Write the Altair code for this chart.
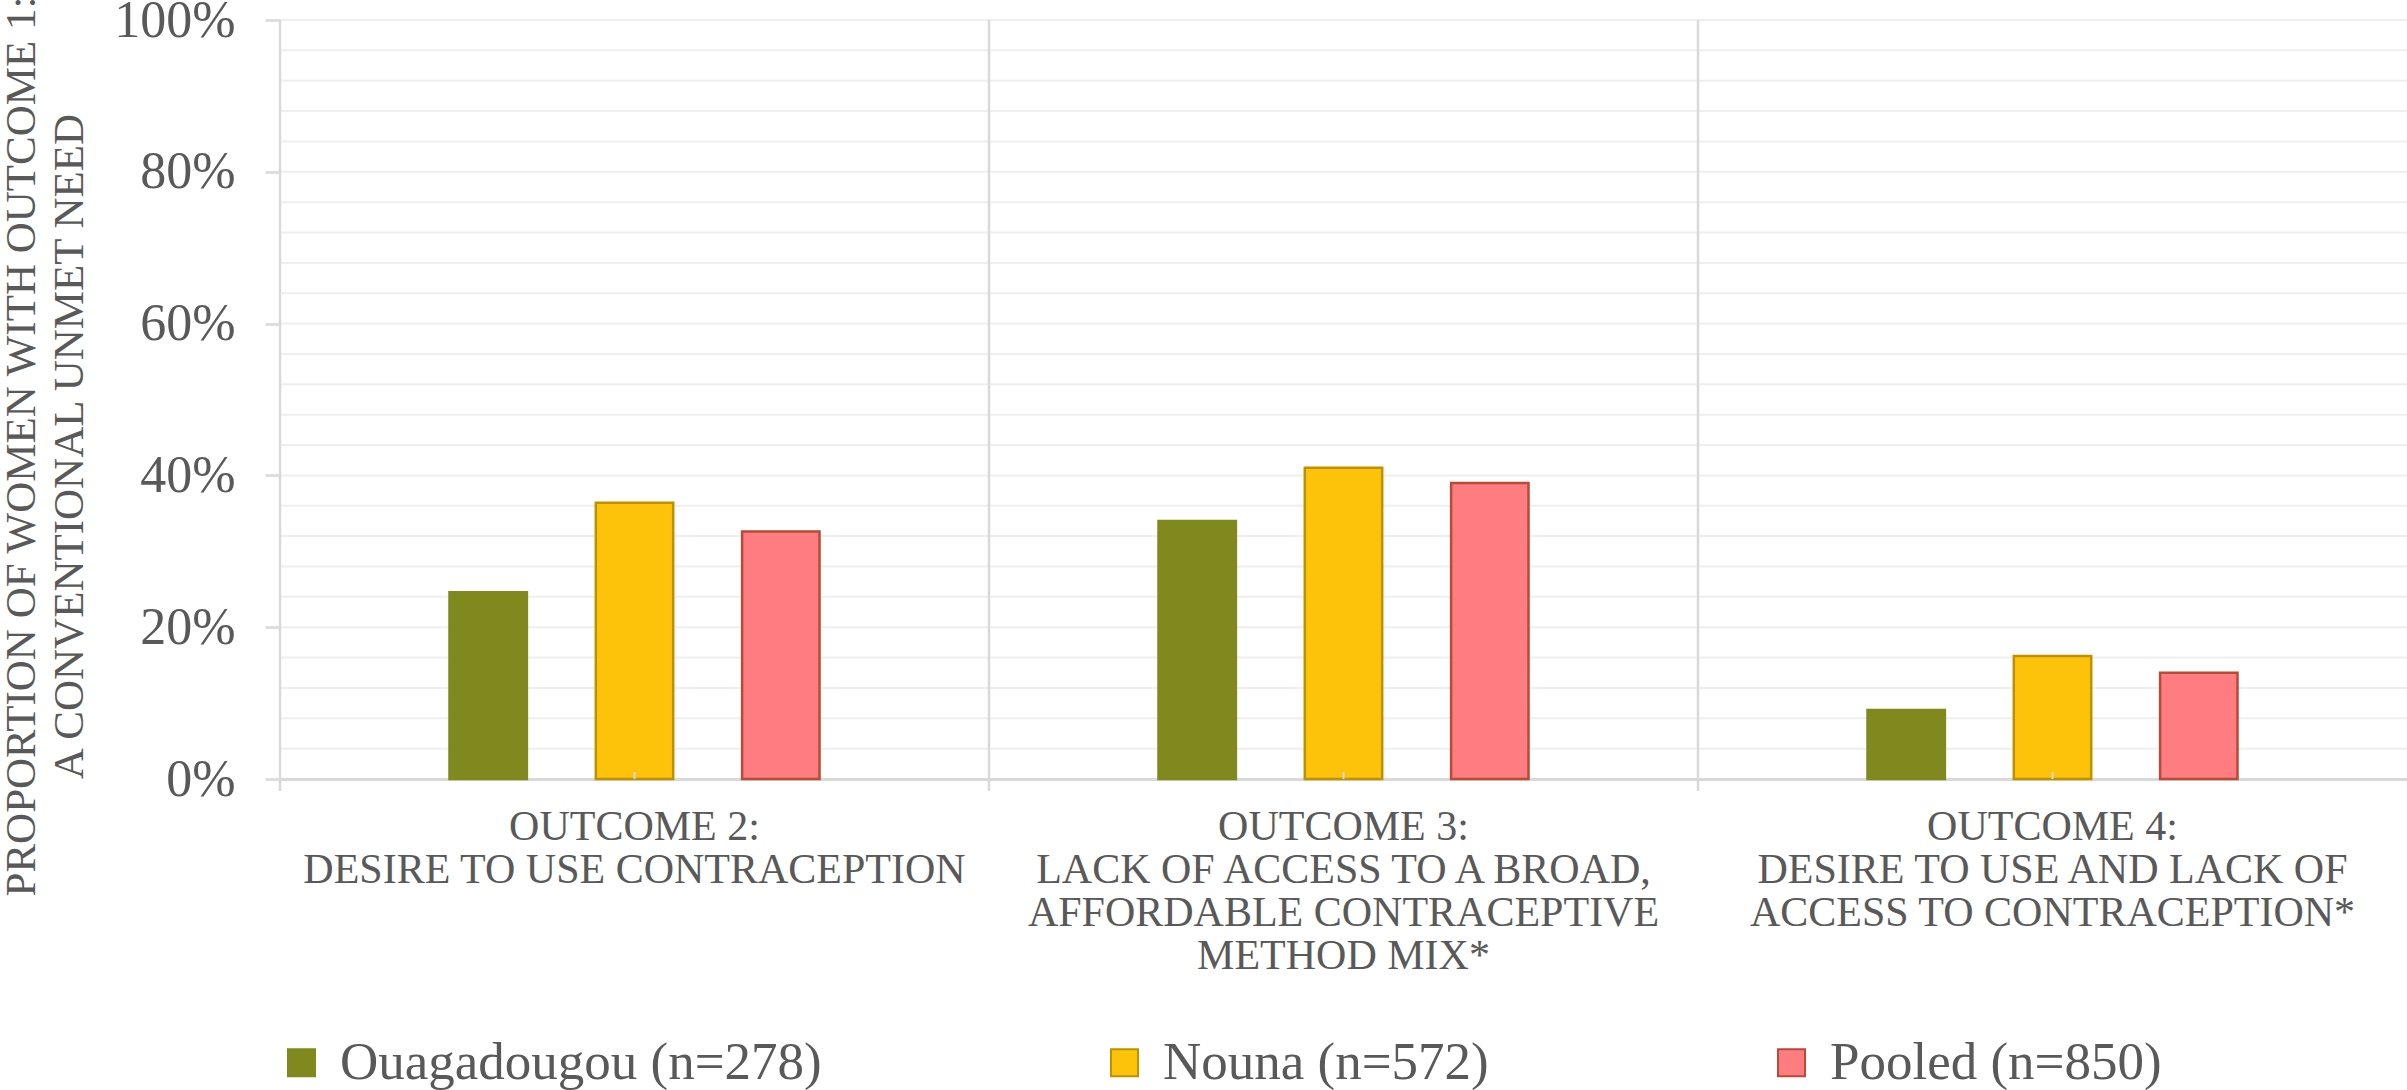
import altair as alt
import pandas as pd

# ---- data -------------------------------------------------------------
OUTCOMES = [
    "OUTCOME 2:\nDESIRE TO USE CONTRACEPTION",
    "OUTCOME 3:\nLACK OF ACCESS TO A BROAD,\nAFFORDABLE CONTRACEPTIVE\nMETHOD MIX*",
    "OUTCOME 4:\nDESIRE TO USE AND LACK OF\nACCESS TO CONTRACEPTION*",
]
SERIES = ["Ouagadougou (n=278)", "Nouna (n=572)", "Pooled (n=850)"]
OUAGA = [0.246, 0.340, 0.091]
NOUNA = [0.364, 0.410, 0.162]
POOLED = [0.326, 0.390, 0.140]
FILLS = ["#7F891E", "#FDC20A", "#FF7C80"]
STROKES = ["#7F891E", "#BF9000", "#B94A35"]
Y_TICKS = [0, 0.2, 0.4, 0.6, 0.8, 1.0]
GRID = [0.04, 0.08, 0.12, 0.16, 0.20, 0.24, 0.28, 0.32, 0.36, 0.40,
        0.44, 0.48, 0.52, 0.56, 0.60, 0.64, 0.68, 0.72, 0.76, 0.80,
        0.84, 0.88, 0.92, 0.96, 1.00]
Y_TITLE = ["PROPORTION OF WOMEN WITH OUTCOME 1:", "A CONVENTIONAL UNMET NEED"]

rows = []
for s, vals in zip(SERIES, [OUAGA, NOUNA, POOLED]):
    for o, v in zip(OUTCOMES, vals):
        rows.append({"outcome": o, "series": s, "value": v})
bars_df = pd.DataFrame(rows)
grid_df = pd.DataFrame({"g": GRID})
cat_df = pd.DataFrame({"outcome": OUTCOMES})

# ---- layout -----------------------------------------------------------
W, H = 2127, 759
BAND = W / 3
FONT = "Liberation Serif"
TXT = "#595959"
LINE = "#d9d9d9"

xscale = alt.Scale(domain=OUTCOMES, paddingInner=0, paddingOuter=0)
yscale = alt.Scale(domain=[0, 1], nice=False, zero=True)

xaxis = alt.Axis(
    title=None,
    labelExpr="split(datum.label, '\\n')",
    labelFont=FONT, labelFontSize=42, labelLineHeight=43, labelColor=TXT,
    labelPadding=27, labelLimit=1000, labelAngle=0, labelOverlap=False,
    ticks=False, tickSize=0, domainColor=LINE, domainWidth=3, grid=False,
)
yaxis = alt.Axis(
    values=Y_TICKS, format=".0%",
    title=Y_TITLE, titleFont=FONT, titleFontSize=43, titleFontWeight="normal",
    titleColor=TXT, titleAngle=270, titleX=-280, titleY=426,
    titleAlign="center", titleBaseline="top", titleLineHeight=48,
    labelFont=FONT, labelFontSize=52, labelColor=TXT, labelPadding=30,
    tickSize=15, tickColor=LINE, tickWidth=2.5, domain=False, grid=False,
)

legend = alt.Legend(
    title=None, orient="none", legendX=-5, legendY=1016, direction="horizontal",
    symbolType="square", symbolSize=729, symbolStrokeWidth=2,
    labelFont=FONT, labelFontSize=53, labelColor=TXT, labelOffset=12,
    columnPadding=276, padding=0, labelLimit=1000,
)

grid = alt.Chart(grid_df).mark_rule(color="#efefef", strokeWidth=2).encode(
    y=alt.Y("g:Q", scale=yscale, axis=yaxis),
    x=alt.value(0), x2=alt.value(W),
)

dividers = alt.Chart(cat_df).mark_rule(color=LINE, strokeWidth=2.5).encode(
    x=alt.X("outcome:N", sort=OUTCOMES, scale=xscale, axis=xaxis, bandPosition=0),
    y=alt.value(0), y2=alt.value(H + 12),
)

bars = alt.Chart(bars_df).mark_bar(strokeWidth=2.5).encode(
    x=alt.X("outcome:N", sort=OUTCOMES, scale=xscale, axis=xaxis),
    xOffset=alt.XOffset("series:N", sort=SERIES,
                        scale=alt.Scale(paddingInner=0.471, paddingOuter=0,
                                        range=[169.5, BAND - 169.5])),
    y=alt.Y("value:Q", scale=yscale, axis=yaxis),
    fill=alt.Fill("series:N", sort=SERIES,
                  scale=alt.Scale(domain=SERIES, range=FILLS), legend=legend),
    stroke=alt.Stroke("series:N", sort=SERIES,
                      scale=alt.Scale(domain=SERIES, range=STROKES), legend=legend),
)

center_ticks = alt.Chart(cat_df).mark_rule(color=LINE, strokeWidth=2).encode(
    x=alt.X("outcome:N", sort=OUTCOMES, scale=xscale, axis=xaxis, bandPosition=0.5),
    y=alt.value(H - 7), y2=alt.value(H),
)

chart = alt.layer(grid, dividers, bars, center_ticks).properties(
    width=W, height=H,
    autosize=alt.AutoSizeParams(type="none"),
    padding={"left": 280, "top": 20, "right": 0, "bottom": 311},
    background="white",
).configure_view(stroke=None)

chart.save("out.html", embed_options={"renderer": "svg", "actions": False})
